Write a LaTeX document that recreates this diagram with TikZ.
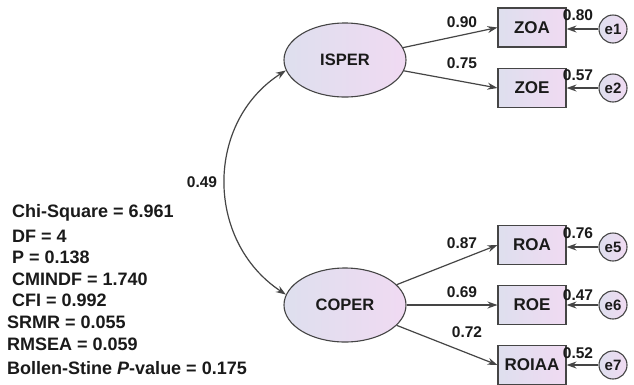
\documentclass[tikz,border=0pt]{standalone}
\usepackage{fontspec}
\setmainfont{Liberation Sans}
\usetikzlibrary{arrows.meta,shapes.geometric}
\definecolor{edge}{HTML}{454545}
\definecolor{fillL}{HTML}{DEDFEE}
\definecolor{fillR}{HTML}{F0DAF2}
\definecolor{txt}{HTML}{1A1A1A}
\begin{document}
\begin{tikzpicture}[x=1pt,y=-1pt,
  lat/.style={ellipse, draw=edge, line width=1.1pt, left color=fillL, right color=fillR,
    minimum width=122pt, minimum height=74pt, inner sep=0pt,
    font=\fontsize{16.5}{18}\selectfont\bfseries, text=txt},
  obs/.style={rectangle, draw=edge, line width=1.1pt, left color=fillL, right color=fillR,
    minimum width=68pt, minimum height=39pt, inner sep=0pt,
    font=\fontsize{17}{18}\selectfont\bfseries, text=txt},
  err/.style={circle, draw=edge, line width=1.1pt, left color=fillL, right color=fillR,
    minimum size=28pt, inner sep=0pt,
    font=\fontsize{15}{16}\selectfont\bfseries, text=txt},
  num/.style={font=\fontsize{15.5}{17}\selectfont\bfseries, text=txt, inner sep=0pt},
  stat/.style={font=\fontsize{18}{20}\selectfont\bfseries, text=txt, inner sep=0pt, anchor=west},
  arr/.style={draw=edge, line width=1.2pt, -{Stealth[length=10pt,width=7pt]}}
]
\useasboundingbox (0,0) rectangle (634,384);
\fill[white] (0,0) rectangle (634,384);

% latent variables
\node[lat] (ISPER) at (345,60) {ISPER};
\node[lat] (COPER) at (345,305) {COPER};

% observed
\node[obs] (ZOA) at (532,27.5) {ZOA};
\node[obs] (ZOE) at (532,88) {ZOE};
\node[obs] (ROA) at (532,245) {ROA};
\node[obs] (ROE) at (532,305) {ROE};
\node[obs] (ROIAA) at (532,365) {ROIAA};

% errors
\node[err] (e1) at (613,29) {e1};
\node[err] (e2) at (613,88) {e2};
\node[err] (e5) at (613,247) {e5};
\node[err] (e6) at (613,305) {e6};
\node[err] (e7) at (613,365) {e7};

% loadings
\draw[arr] (ISPER) -- (ZOA.west);
\draw[arr] (ISPER) -- (ZOE.west);
\draw[arr] (COPER) -- (ROA.west);
\draw[arr] (COPER) -- (ROE.west);
\draw[arr] (COPER) -- (ROIAA.west);

% error arrows
\draw[arr] (e1) -- (e1 -| ZOA.east);
\draw[arr] (e2) -- (e2 -| ZOE.east);
\draw[arr] (e5) -- (e5 -| ROA.east);
\draw[arr] (e6) -- (e6 -| ROE.east);
\draw[arr] (e7) -- (e7 -| ROIAA.east);

% covariance
\draw[draw=edge, line width=1.2pt, {Stealth[length=10pt,width=7pt]}-{Stealth[length=10pt,width=7pt]}]
  (ISPER.190) .. controls (205,122) and (205,241) .. (COPER.170);

% numbers
\node[num] (n1) at (462,22) {0.90};
\node[num] (n2) at (462,63) {0.75};
\node[num] (n3) at (462,243) {0.87};
\node[num] (n4) at (462,292) {0.69};
\node[num] (n5) at (467,332) {0.72};
\node[num] (r1) at (578,15) {0.80};
\node[num] (r2) at (578,75) {0.57};
\node[num] (r5) at (578,233) {0.76};
\node[num] (r6) at (578,295) {0.47};
\node[num] (r7) at (578,353) {0.52};
\node[num] (c1) at (202,182) {0.49};

% fit statistics
\node[stat] (s1) at (12,213) {Chi-Square = 6.961};
\node[stat] (s2) at (12,236) {DF = 4};
\node[stat] (s3) at (12,257) {P = 0.138};
\node[stat] (s4) at (12,279) {CMINDF = 1.740};
\node[stat] (s5) at (12,300) {CFI = 0.992};
\node[stat] (s6) at (7,322) {SRMR = 0.055};
\node[stat] (s7) at (7,344) {RMSEA = 0.059};
\node[stat] (s8) at (7,368) {Bollen-Stine \textit{P}-value = 0.175};
\end{tikzpicture}
\end{document}
